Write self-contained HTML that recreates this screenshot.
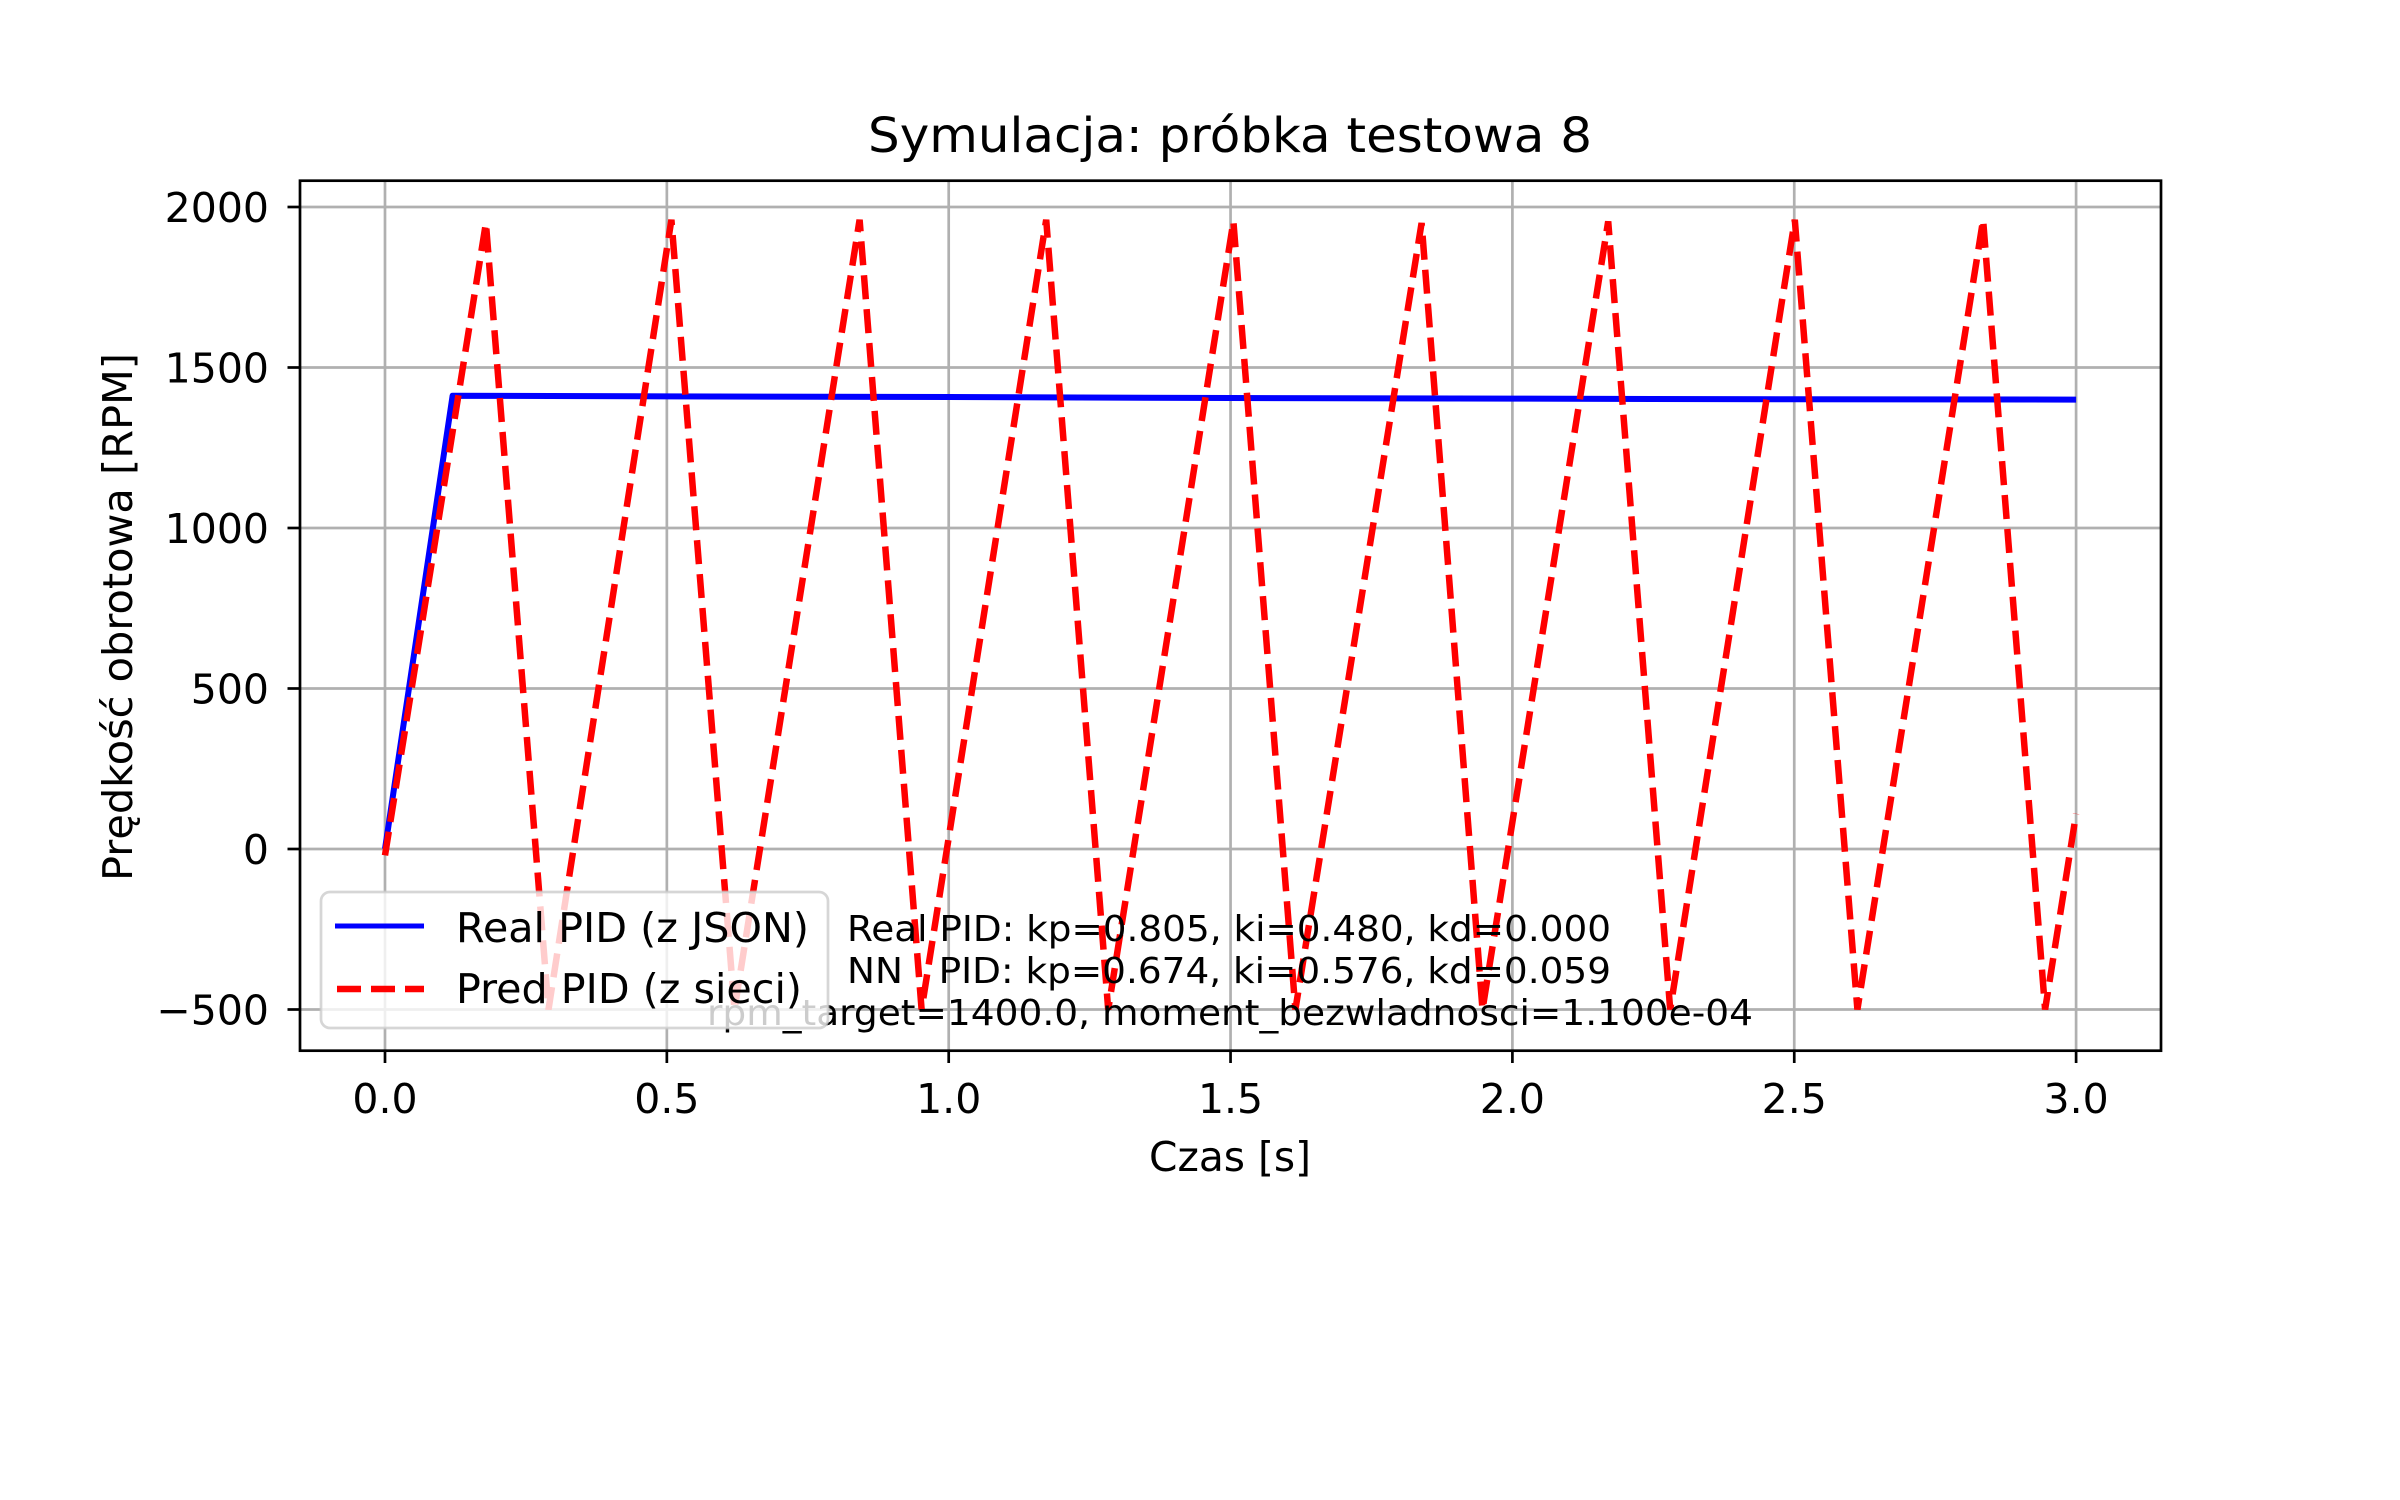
<!DOCTYPE html>
<html><head><meta charset="utf-8"><style>
html,body{margin:0;padding:0;background:#fff;}
svg{display:block;font-family:"DejaVu Sans","Liberation Sans",sans-serif;}
</style></head><body>
<svg id="chart" width="2400" height="1500" viewBox="0 0 2400 1500" xmlns="http://www.w3.org/2000/svg">
<rect x="0" y="0" width="2400" height="1500" fill="#fff"/>
<text x="1230" y="152" font-size="48" text-anchor="middle" textLength="724" lengthAdjust="spacingAndGlyphs">Symulacja: próbka testowa 8</text>
<g id="grid"></g>
<g id="series"></g>
<rect x="300" y="180.7" width="1861" height="870" fill="none" stroke="#000" stroke-width="2.7"/>
<g id="ticks"></g>
<text x="1230" y="1171" font-size="41" text-anchor="middle" textLength="162" lengthAdjust="spacingAndGlyphs">Czas [s]</text>
<text transform="translate(132,617) rotate(-90)" font-size="41" text-anchor="middle" textLength="528" lengthAdjust="spacingAndGlyphs">Prędkość obrotowa [RPM]</text>
<g font-size="36" text-anchor="middle">
<text x="1229" y="941" textLength="764" lengthAdjust="spacingAndGlyphs">Real PID: kp=0.805, ki=0.480, kd=0.000</text>
<text x="1229" y="983" textLength="764" lengthAdjust="spacingAndGlyphs">NN&#160;&#160;&#160;PID: kp=0.674, ki=0.576, kd=0.059</text>
<text x="1230" y="1025" textLength="1046" lengthAdjust="spacingAndGlyphs">rpm_target=1400.0, moment_bezwladnosci=1.100e-04</text>
</g>
<g>
<rect x="321" y="892" width="507" height="136" rx="9" fill="#fff" fill-opacity="0.8" stroke="#ccc" stroke-opacity="0.8" stroke-width="2.7"/>
<line x1="335" y1="926" x2="424" y2="926" stroke="#0000ff" stroke-width="5"/>
<text x="456" y="942" font-size="41" textLength="353" lengthAdjust="spacingAndGlyphs">Real PID (z JSON)</text>
<line x1="337" y1="989" x2="424" y2="989" stroke="#ff0000" stroke-width="6.5" stroke-dasharray="24,10"/>
<text x="456" y="1003" font-size="41" textLength="346" lengthAdjust="spacingAndGlyphs">Pred PID (z sieci)</text>
</g>
</svg>
<script>
const xTicks = [0.0, 0.5, 1.0, 1.5, 2.0, 2.5, 3.0];
const xTickLabels = ["0.0","0.5","1.0","1.5","2.0","2.5","3.0"];
const yTicks = [-500, 0, 500, 1000, 1500, 2000];
const yTickLabels = ["\u2212500","0","500","1000","1500","2000"];
const realTime = [0.0, 0.12, 0.5, 1.0, 1.5, 2.0, 2.5, 3.0];
const realRpm = [0, 1412, 1410, 1408, 1405, 1403, 1401, 1400];
const predTime = [0.0, 0.179, 0.29, 0.508, 0.62, 0.842, 0.952, 1.173, 1.283, 1.505, 1.615, 1.839, 1.947, 2.170, 2.280, 2.501, 2.612, 2.835, 2.945, 3.0];
const predRpm = [-20, 1950, -500, 1960, -500, 1960, -500, 1960, -500, 1955, -500, 1950, -500, 1955, -500, 1960, -500, 1960, -500, 110];

const X0 = 385, XS = 563.7;
const Y0 = 849, YS = -0.321;
function sx(v){ return X0 + v*XS; }
function sy(v){ return Y0 + v*YS; }
const NS = "http://www.w3.org/2000/svg";
const grid = document.getElementById('grid');
const ticks = document.getElementById('ticks');
const series = document.getElementById('series');
function mk(tag, attrs, parent){ const e=document.createElementNS(NS,tag); for(const k in attrs) e.setAttribute(k,attrs[k]); parent.appendChild(e); return e; }

xTicks.forEach((v,i)=>{
  const g = mk('line',{x1:sx(v),x2:sx(v),y1:180.7,y2:1050.7,stroke:'#b0b0b0','stroke-width':2.7},grid);
  
  
  const t = mk('line',{x1:sx(v),x2:sx(v),y1:1050.7,y2:1063,stroke:'#000','stroke-width':2.7},ticks);
  
  
  const l = mk('text',{x:sx(v),y:1113,'font-size':41,'text-anchor':'middle'},ticks);
  l.textContent = xTickLabels[i];
  
  
});
yTicks.forEach((v,i)=>{
  const g = mk('line',{x1:300,x2:2161,y1:sy(v),y2:sy(v),stroke:'#b0b0b0','stroke-width':2.7},grid);
  
  
  const t = mk('line',{x1:287.5,x2:300,y1:sy(v),y2:sy(v),stroke:'#000','stroke-width':2.7},ticks);
  
  
  const l = mk('text',{x:269,y:sy(v)+15,'font-size':41,'text-anchor':'end'},ticks);
  l.textContent = yTickLabels[i];
  
  
});
function pts(ts, vs){ return ts.map((t,i)=>sx(t).toFixed(1)+','+sy(vs[i]).toFixed(1)).join(' '); }
const real = mk('polyline',{points:pts(realTime,realRpm),fill:'none',stroke:'#0000ff','stroke-width':6,'stroke-linejoin':'round'},series);


const pred = mk('polyline',{points:pts(predTime,predRpm),fill:'none',stroke:'#ff0000','stroke-width':6.5,'stroke-dasharray':'24,10'},series);


</script>
</body></html>
